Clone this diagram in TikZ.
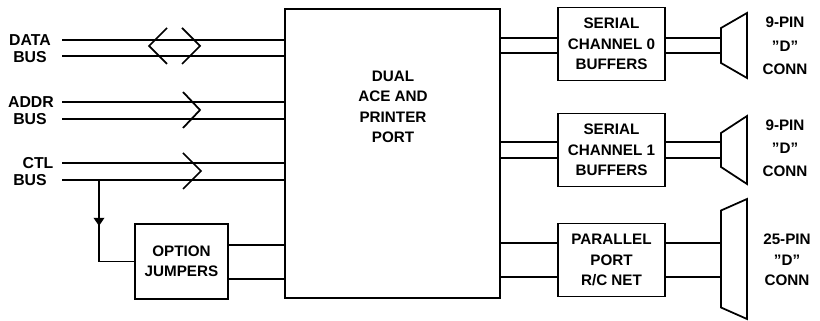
\documentclass[tikz,border=0pt]{standalone}
\usepackage{fontspec}
\setmainfont{Liberation Sans}
\usetikzlibrary{arrows.meta,positioning}

\begin{document}
\begin{tikzpicture}[x=0.03cm,y=-0.03cm,font=\bfseries\fontsize{13}{17.5}\selectfont,
box/.style={draw,line width=1.5pt,align=center,inner sep=0pt,minimum width=3.21cm,minimum height=2.19cm},
wire/.style={line width=1.5pt,line join=miter},
lbl/.style={align=center,inner sep=0pt},
tip/.style={-{Triangle[length=7pt,width=9pt]},line width=1.5pt}]
\useasboundingbox (0,0) rectangle (820,321);

% blocks
\node[box,minimum width=6.45cm,minimum height=8.67cm] (ace) at (392.5,153.5) {};
\node[lbl] (acetxt) at (393,107) {DUAL\\ACE AND\\PRINTER\\PORT};
\node[box,minimum width=2.79cm,minimum height=2.25cm] (opt) at (181.5,261.5) {OPTION\\JUMPERS};
\node[box] (ser0) at (611.5,44) {SERIAL\\CHANNEL 0\\BUFFERS};
\node[box] (ser1) at (611.5,150) {SERIAL\\CHANNEL 1\\BUFFERS};
\node[box] (par) at (611.5,260) {PARALLEL\\PORT\\R/C NET};

% bus labels
\node[lbl,font=\bfseries\fontsize{13.5}{16}\selectfont] (datal) at (30,40) {DATA};
\node[lbl,font=\bfseries\fontsize{13.5}{16}\selectfont] (datab) at (30,57) {BUS};
\node[lbl,font=\bfseries\fontsize{13.5}{16}\selectfont] (addrl) at (31,102) {ADDR};
\node[lbl,font=\bfseries\fontsize{13.5}{16}\selectfont] (addrb) at (30,119) {BUS};
\node[lbl,font=\bfseries\fontsize{13.5}{16}\selectfont] (ctll) at (38,163) {CTL};
\node[lbl,font=\bfseries\fontsize{13.5}{16}\selectfont] (ctlb) at (30,180) {BUS};

\foreach \nn/\yy in {d1/40,d2/56,a1/102,a2/119,c1/163,c2/180}{
 \coordinate (\nn) at (62,\yy);
 \draw[wire] (\nn) -- (ace.west|-\nn);
}
\draw[wire] (167,28) -- (149,46) -- (167,64) (182,28) -- (200,46) -- (182,64);
\draw[wire] (183,92) -- (200,110) -- (183,128);
\draw[wire] (183,153) -- (201,171) -- (183,189);

% ctl tap to jumpers
\coordinate (tap) at (99,180);
\draw[wire] (tap) |- (opt.west);
\draw[tip] (tap) -- (99,226);
\foreach \yy in {245,279}
 \draw[wire] (opt.east|-0,\yy) -- (ace.west|-0,\yy);

% connectors
\foreach \nn/\yy/\a/\b in {cn0/45.5/17.5/32.5,cn1/150/17/34,cn2/259/48.5/60}{
 \coordinate (\nn) at (721,\yy);
 \draw[wire] (721,\yy-\a) -- (747,\yy-\b) -- (747,\yy+\b) -- (721,\yy+\a) -- cycle;
}
\foreach \bx/\cn/\yy in {ser0/cn0/38,ser0/cn0/53,ser1/cn1/142,ser1/cn1/158,par/cn2/243,par/cn2/277}
 \draw[wire] (ace.east|-0,\yy) -- (\bx.west|-0,\yy) (\bx.east|-0,\yy) -- (\cn|-0,\yy);

\node[lbl,font=\bfseries\fontsize{13}{20}\selectfont] (pin0) at (785,46) {9-PIN\\''D''\\CONN};
\node[lbl,font=\bfseries\fontsize{13}{19.5}\selectfont] (pin1) at (785,148) {9-PIN\\''D''\\CONN};
\node[lbl,font=\bfseries\fontsize{13}{17.5}\selectfont] (pin2) at (787,260) {25-PIN\\''D''\\CONN};
\end{tikzpicture}
\end{document}
